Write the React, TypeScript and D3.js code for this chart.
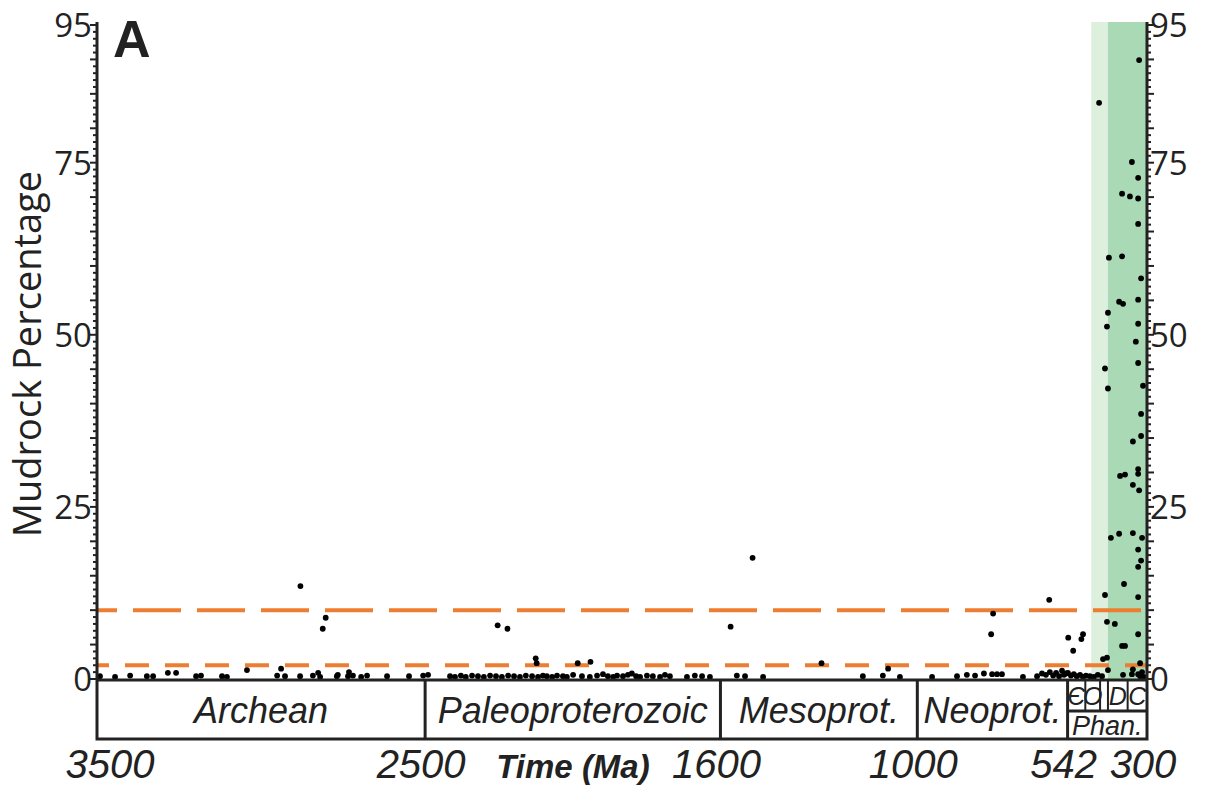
import React from 'react';
import * as d3 from 'd3';

// sample ages (Ma) and mudrock percentages
const ages = [
  3491, 3445, 3399, 3348, 3329, 3284, 3259, 3198, 3183, 3119, 3104, 3043, 2951, 2939, 2927, 2881, 2842, 2826, 2820,
  2769, 2766, 2735, 2732, 2720, 2695, 2677, 2616, 2549, 2506, 2491, 2880, 2803, 2812,
  2424, 2409, 2391, 2376, 2357, 2339, 2321, 2302, 2284, 2266, 2247, 2229, 2211, 2193, 2174, 2156, 2141,
  2129, 2113, 2098, 2080, 2068, 2049, 2022, 1998, 1976, 1958, 1943, 1927, 1915, 1897, 1882, 1870, 1857, 1845,
  1824, 1806, 1784, 1769, 1754, 1702, 1678, 1656, 1632, 2279, 2249, 2163, 2160, 2035, 1996,
  1550, 1525, 1470, 1569, 1502, 1292, 1166, 1105, 1089, 1053,
  955, 879, 849, 824, 797, 772, 757, 742, 678, 635, 620, 608, 596, 586, 577, 568, 559, 553, 547, 598, 769, 775,
  541, 532, 523, 514, 504, 495, 486, 474, 462, 450, 437, 540, 525, 500, 495,
  324, 446, 346, 327, 376, 352, 327, 327, 416, 376, 318, 385, 373, 327, 419, 422, 327, 334, 327, 428, 419, 312,
  318, 343, 318, 382, 367, 327, 327, 343, 324, 410, 385, 343, 315, 327, 327, 318, 370, 428, 327, 422, 398, 327,
  376, 367, 434, 422, 321, 373, 346, 327, 321, 343, 419, 315, 310
];
const mudrock = [
  0.4, 0.3, 0.5, 0.4, 0.4, 0.9, 0.9, 0.4, 0.5, 0.4, 0.3, 1.3, 0.5, 1.5, 0.4, 0.4, 0.5, 0.9, 0.3,
  0.4, 0.6, 0.4, 1.0, 0.5, 0.3, 0.5, 0.4, 0.4, 0.5, 0.6, 13.5, 8.9, 7.3,
  0.4, 0.3, 0.5, 0.3, 0.5, 0.4, 0.3, 0.5, 0.4, 0.3, 0.5, 0.4, 0.3, 0.5, 0.4, 0.3, 0.5,
  0.4, 0.3, 0.5, 0.4, 0.3, 0.6, 0.4, 0.3, 0.5, 0.7, 0.4, 0.3, 0.5, 0.4, 0.6, 0.8, 0.4, 0.3,
  0.5, 0.4, 0.3, 0.6, 0.4, 0.3, 0.5, 0.4, 0.3, 7.8, 7.3, 3.0, 2.3, 2.3, 2.5,
  0.5, 0.4, 0.3, 7.6, 17.6, 2.3, 0.4, 0.5, 1.5, 0.3,
  0.3, 0.4, 0.6, 0.5, 0.8, 0.7, 0.7, 0.7, 0.3, 0.4, 0.8, 0.6, 1.0, 0.5, 0.9, 0.4, 1.2, 0.6, 0.8, 11.5, 9.5, 6.5,
  0.9, 0.5, 0.7, 0.4, 0.6, 0.3, 0.5, 0.4, 0.3, 0.6, 0.4, 6.0, 4.1, 5.8, 6.5,
  89.9, 83.7, 75.1, 72.8, 70.5, 70.1, 69.8, 66.1, 61.2, 61.4, 58.2, 54.8, 54.5, 55.1, 53.2, 51.2, 51.6, 49.0, 45.9, 45.1, 42.2, 42.6,
  38.5, 34.5, 35.3, 29.5, 29.7, 30.5, 29.8, 28.2, 27.4, 20.5, 21.1, 21.2, 20.5, 18.8, 16.3, 17.2, 13.8, 12.2, 11.9, 8.3, 8.0, 6.5,
  4.8, 4.8, 2.9, 3.1, 2.3, 0.6, 0.7, 0.7, 0.4, 1.4, 1.3, 1.0, 0.3
];

const eraNames = ['Archean', 'Paleoproterozoic', 'Mesoprot.', 'Neoprot.'];
const eraBounds = [3500, 2500, 1600, 1000, 542];
const periodNames = ['Є', 'O', '', 'D', 'C'];
const periodBounds = [542, 488, 443, 419, 359, 300];
const timeTicks = [3500, 2500, 1600, 1000, 542, 300];
const yLabels = [0, 25, 50, 75, 95];
const thresholds = [10, 2];
const shadeBounds = [470, 419, 300];

const W = 1205, H = 787;
const x = d3.scaleLinear().domain([3500, 300]).range([97, 1147]);
const y = d3.scaleLinear().domain([0, 95]).range([679, 25]);

const sans = '"Open Sans", sans-serif';
const arial = '"Liberation Sans", Arial, sans-serif';

export default function App() {
  const minor = d3.range(0, 96, 1);
  const boxTop = y(0) + 1, boxMid = 711, boxBot = 739;
  const x0 = x(3500), x1 = x(300);

  return (
    <svg width={W} height={H} style={{ position: 'absolute', left: 0, top: 0, background: '#fff' }}>
      {/* green shading */}
      <rect x={x(shadeBounds[0])} y={y(95) - 3} width={x(shadeBounds[1]) - x(shadeBounds[0])} height={y(0) - y(95) + 3} fill="#ddefdd" />
      <rect x={x(shadeBounds[1])} y={y(95) - 3} width={x(shadeBounds[2]) - x(shadeBounds[1])} height={y(0) - y(95) + 3} fill="#a9d9b5" />

      {/* threshold lines */}
      {thresholds.map((t, i) => (
        <line key={t} x1={x0} x2={x1} y1={y(t)} y2={y(t)} stroke="#ed7d31" strokeWidth={4}
          strokeDasharray={i === 0 ? '48 16' : '24 16'} strokeDashoffset={i === 0 ? 28 : 12} />
      ))}

      {/* samples */}
      {ages.map((a, i) => (
        <circle key={i} cx={x(a)} cy={y(mudrock[i])} r={2.9} fill="#000" />
      ))}

      {/* y axes */}
      <line x1={x0} x2={x0} y1={y(95) - 3} y2={boxTop} stroke="#222" strokeWidth={3} />
      <line x1={x1} x2={x1} y1={y(95) - 3} y2={boxTop} stroke="#222" strokeWidth={3} />
      {minor.map(v => {
        const len = v % 5 === 0 ? 7 : 4;
        return (
          <g key={v}>
            <line x1={x0 - len} x2={x0} y1={y(v)} y2={y(v)} stroke="#222" strokeWidth={2} />
            <line x1={x1} x2={x1 + len} y1={y(v)} y2={y(v)} stroke="#222" strokeWidth={2} />
          </g>
        );
      })}
      {yLabels.map(v => (
        <g key={v} fontFamily={sans} fontSize={33} fill="#222">
          <text x={x0 - 5} y={y(v) + 12} textAnchor="end">{v}</text>
          <text x={x1 + 3} y={y(v) + 12} textAnchor="start">{v}</text>
        </g>
      ))}
      <text transform={`translate(41,${(y(0) + y(95)) / 2 + 2}) rotate(-90)`} textAnchor="middle"
        fontFamily={sans} fontSize={38} fill="#222">Mudrock Percentage</text>
      <text x={113} y={57} fontFamily={arial} fontWeight="bold" fontSize={52} fill="#222">A</text>

      {/* geologic time scale */}
      <g stroke="#222" strokeWidth={3} fill="none">
        <rect x={x0} y={boxTop} width={x1 - x0} height={boxBot - boxTop} />
        {eraBounds.slice(1).map(b => <line key={b} x1={x(b)} x2={x(b)} y1={boxTop} y2={boxBot} />)}
        <line x1={x(542)} x2={x1} y1={boxMid} y2={boxMid} />
        {periodBounds.slice(1, -1).map(b => <line key={b} x1={x(b)} x2={x(b)} y1={boxTop} y2={boxMid} strokeWidth={2} />)}
      </g>
      <g fontFamily={arial} fontStyle="italic" fill="#222">
        {eraNames.map((n, i) => (
          <text key={n} x={(x(eraBounds[i]) + x(eraBounds[i + 1])) / 2} y={723} textAnchor="middle" fontSize={36}>{n}</text>
        ))}
        {periodNames.map((n, i) => (
          <text key={i} x={(x(periodBounds[i]) + x(periodBounds[i + 1])) / 2} y={705} textAnchor="middle" fontSize={25}>{n}</text>
        ))}
        <text x={(x(542) + x1) / 2} y={735} textAnchor="middle" fontSize={27}>Phan.</text>
        {timeTicks.map((t, i) => (
          <text key={t} x={x(t) + (i === 0 ? 13 : -4)} y={778} textAnchor="middle" fontSize={40}>{t}</text>
        ))}
        <text x={573} y={778} textAnchor="middle" fontSize={33} fontWeight="bold">Time (Ma)</text>
      </g>
    </svg>
  );
}
